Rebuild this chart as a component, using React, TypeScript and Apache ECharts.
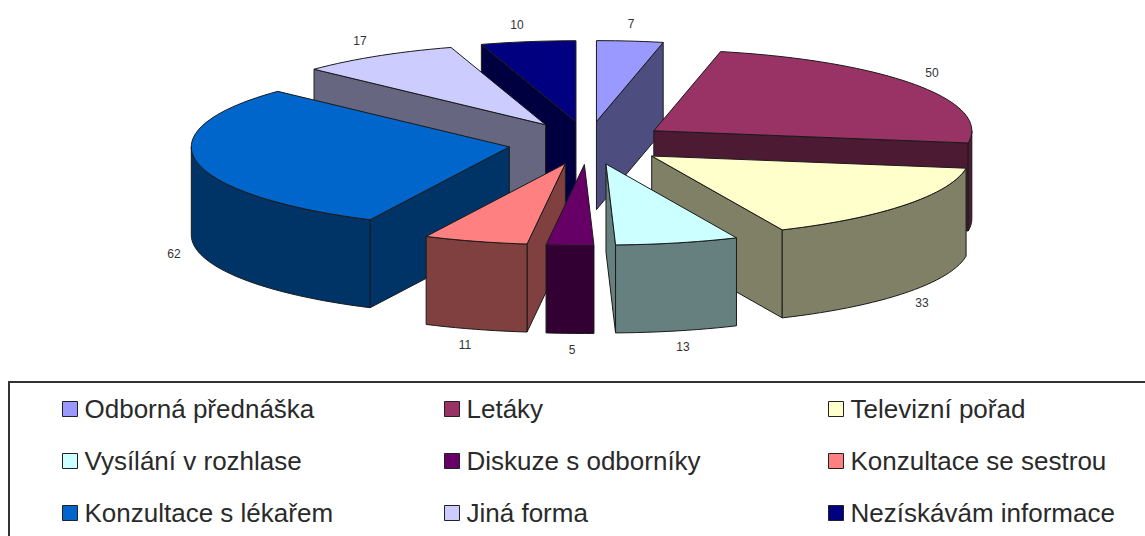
import React, { useEffect, useRef } from "react";
import * as echarts from "echarts";

const categories = [
  "Odborná přednáška",
  "Letáky",
  "Televizní pořad",
  "Vysílání v rozhlase",
  "Diskuze s odborníky",
  "Konzultace se sestrou",
  "Konzultace s lékařem",
  "Jiná forma",
  "Nezískávám informace",
];
const values = [7, 50, 33, 13, 5, 11, 62, 17, 10];
const topColors = ["#9999FF", "#993366", "#FFFFCC", "#CCFFFF", "#660066", "#FF8080", "#0066CC", "#CCCCFF", "#000080"];
const wallColors = ["#4D4D80", "#4D1A33", "#808066", "#668080", "#330033", "#804040", "#003366", "#666680", "#000040"];

// Where each value label sits on the page.
const labelAnchors = [
  [631, 24], [932, 73], [922, 303], [683, 347], [572, 350], [465, 345], [174, 254], [360, 41], [517, 25],
];
// Slices are painted from the back of the pie to the front.
const paintOrder = [0, 8, 7, 1, 6, 2, 5, 3, 4];

// Projected pie geometry.
const CX = 588, CY = 143, RX = 318, RY = 81, EX = 80, EY = 21.5, DEPTH = 88;
const EDGE = "#1a1a1a";
const DEG = Math.PI / 180;

const total = values.reduce((a, b) => a + b, 0);
const sliceAngles = (i: number): [number, number] => {
  const before = values.slice(0, i).reduce((a, b) => a + b, 0);
  return [(before / total) * 360, ((before + values[i]) / total) * 360];
};

function arc(ox: number, oy: number, from: number, to: number): number[][] {
  const steps = Math.max(2, Math.ceil(Math.abs(to - from) / 2));
  const pts: number[][] = [];
  for (let k = 0; k <= steps; k++) {
    const a = (from + ((to - from) * k) / steps) * DEG;
    pts.push([ox + RX * Math.sin(a), oy - RY * Math.cos(a)]);
  }
  return pts;
}

function poly(points: number[][], fill: string) {
  return {
    type: "polygon",
    shape: { points },
    style: { fill, stroke: EDGE, lineWidth: 1, lineJoin: "round" },
  };
}

function renderSlice(i: number) {
  const [a0, a1] = sliceAngles(i);
  const mid = ((a0 + a1) / 2) * DEG;
  const ox = CX + EX * Math.sin(mid);
  const oy = CY - EY * Math.cos(mid);
  const wall = wallColors[i];
  const children: any[] = [];
  const corner = (a: number) => [ox + RX * Math.sin(a * DEG), oy - RY * Math.cos(a * DEG)];
  const side = (a: number) => {
    const c = corner(a);
    return poly([[ox, oy], c, [c[0], c[1] + DEPTH], [ox, oy + DEPTH]], wall);
  };
  // Cut faces that turn towards the viewer.
  if (Math.sin(a0 * DEG) < -1e-6) children.push(side(a0));
  if (Math.sin(a1 * DEG) > 1e-6) children.push(side(a1));
  // Outer rim, only along the front half of the ellipse.
  const f0 = Math.max(a0, 90), f1 = Math.min(a1, 270);
  if (f1 > f0) {
    const upper = arc(ox, oy, f0, f1);
    const lower = upper.map(([x, y]) => [x, y + DEPTH]).reverse();
    children.push(poly([...upper, ...lower], wall));
  }
  // Top face.
  children.push(poly([[ox, oy], ...arc(ox, oy, a0, a1)], topColors[i]));
  // Value label.
  children.push({
    type: "text",
    style: {
      x: labelAnchors[i][0],
      y: labelAnchors[i][1],
      text: String(values[i]),
      fill: "#333333",
      stroke: "none",
      lineWidth: 0,
      font: '12px "Liberation Sans", Arial, sans-serif',
      align: "center",
      verticalAlign: "middle",
    },
  });
  return { type: "group", children };
}

const legendColumns = [
  { left: 62, items: [0, 3, 6] },
  { left: 444, items: [1, 4, 7] },
  { left: 828, items: [2, 5, 8] },
];

export default function App() {
  const ref = useRef<HTMLDivElement>(null);
  useEffect(() => {
    const chart = echarts.init(ref.current!, null, { renderer: "svg" });
    chart.setOption({
      animation: false,
      backgroundColor: "#fff",
      legend: legendColumns.map((col) => ({
        orient: "vertical",
        left: col.left,
        top: 396,
        padding: 0,
        itemGap: 26,
        itemWidth: 15,
        itemHeight: 15,
        icon: "rect",
        selectedMode: false,
        data: col.items.map((i) => ({
          name: categories[i],
          itemStyle: { color: topColors[i], borderColor: "#222", borderWidth: 1 },
        })),
        textStyle: {
          fontFamily: '"Liberation Sans", Arial, sans-serif',
          fontSize: 26,
          color: "#2a2a2a",
          padding: [0, 0, 0, 2],
          lineHeight: 26,
          height: 26,
        },
      })),
      graphic: [
        {
          type: "rect",
          silent: true,
          shape: { x: 9, y: 382, width: 1300, height: 300 },
          style: { fill: "none", stroke: "#333", lineWidth: 2 },
        },
      ],
      series: paintOrder.map((i) => ({
        type: "custom",
        name: categories[i],
        coordinateSystem: "none",
        silent: true,
        itemStyle: { color: topColors[i] },
        data: [values[i]],
        renderItem: () => renderSlice(i),
      })),
    });
    return () => chart.dispose();
  }, []);
  return <div ref={ref} style={{ position: "absolute", left: 0, top: 0, width: 1145, height: 536 }} />;
}
